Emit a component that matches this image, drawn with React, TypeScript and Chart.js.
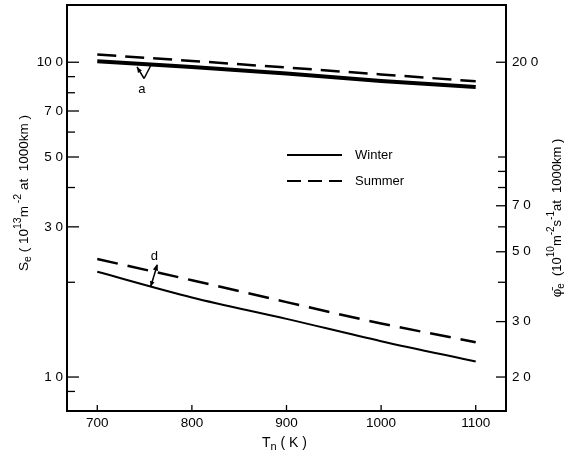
import { useEffect, useRef } from "react";
import { Chart, registerables } from "chart.js";

Chart.register(...registerables);

// ---- data ----
const temps = [700, 800, 900, 1000, 1100];
// upper pair (curve "a")
const winterA = [10.07, 9.66, 9.21, 8.72, 8.35];
const summerA = [10.58, 10.1, 9.62, 9.15, 8.7];
// lower pair (curve "d")
const winterD = [2.16, 1.79, 1.53, 1.3, 1.12];
const summerD = [2.37, 2.03, 1.73, 1.48, 1.29];

const xTicks = [700, 800, 900, 1000, 1100];
const leftMajor = [1, 3, 5, 7, 10];
const leftMajorLabels = ["1 0", "3 0", "5 0", "7 0", "10 0"];
const leftMinor = [0.9, 2, 4, 6, 8, 9];
const rightMajor = [2, 3, 5, 7, 20];
const rightMajorLabels = ["2 0", "3 0", "5 0", "7 0", "20 0"];
const rightMinor = [4, 6, 8, 9, 10];

const legendLabels = ["Winter", "Summer"];

// annotation anchors in data units [T, value]
const annotA = { tipL: [742, 9.66], bottom: [749.5, 8.88], tipR: [757.6, 9.91], label: [747, 8.21] };
const annotD = { bottom: [756.4, 1.935], top: [763.4, 2.27], label: [760.3, 2.42] };

const FONT = '"Liberation Sans", Arial, sans-serif';

type Seg = { t: string; s: number; dy?: number };

function segWidth(ctx: CanvasRenderingContext2D, segs: Seg[]) {
  let w = 0;
  for (const sg of segs) {
    ctx.font = `${sg.s}px ${FONT}`;
    w += ctx.measureText(sg.t).width;
  }
  return w;
}

function drawSegs(ctx: CanvasRenderingContext2D, segs: Seg[], cx: number, cy: number, rot: number) {
  ctx.save();
  ctx.translate(cx, cy);
  ctx.rotate(rot);
  const total = segWidth(ctx, segs);
  let x = -total / 2;
  ctx.textAlign = "left";
  ctx.textBaseline = "middle";
  for (const sg of segs) {
    ctx.font = `${sg.s}px ${FONT}`;
    ctx.fillText(sg.t, x, sg.dy || 0);
    x += ctx.measureText(sg.t).width;
  }
  ctx.restore();
}

function arrowHead(ctx: CanvasRenderingContext2D, fx: number, fy: number, tx: number, ty: number, size: number) {
  const ang = Math.atan2(ty - fy, tx - fx);
  ctx.beginPath();
  ctx.moveTo(tx, ty);
  ctx.lineTo(tx - size * Math.cos(ang - 0.4), ty - size * Math.sin(ang - 0.4));
  ctx.lineTo(tx - size * Math.cos(ang + 0.4), ty - size * Math.sin(ang + 0.4));
  ctx.closePath();
  ctx.fill();
}

export default function App() {
  const ref = useRef<HTMLCanvasElement>(null);

  useEffect(() => {
    const canvas = ref.current;
    if (!canvas) return;

    const overlay = {
      id: "overlay",
      afterDraw(chart: any) {
        const { ctx, chartArea: a, scales } = chart;
        const sx = scales.x;
        const sy = scales.y;
        const sy2 = scales.y2;
        ctx.save();
        ctx.strokeStyle = "#000";
        ctx.fillStyle = "#000";
        ctx.setLineDash([]);

        // frame
        ctx.lineWidth = 2;
        ctx.strokeRect(a.left, a.top, a.right - a.left, a.bottom - a.top);

        const line = (x1: number, y1: number, x2: number, y2: number) => {
          ctx.beginPath();
          ctx.moveTo(x1, y1);
          ctx.lineTo(x2, y2);
          ctx.stroke();
        };

        // x ticks
        ctx.lineWidth = 1.3;
        ctx.font = `13.5px ${FONT}`;
        ctx.textAlign = "center";
        ctx.textBaseline = "middle";
        xTicks.forEach((v) => {
          const p = sx.getPixelForValue(v);
          line(p, a.bottom, p, a.bottom - 6);
          ctx.fillText(String(v), p, a.bottom + 12);
        });

        // left ticks
        leftMajor.forEach((v, i) => {
          const p = sy.getPixelForValue(v);
          line(a.left, p, a.left + 12, p);
          ctx.textAlign = "right";
          ctx.fillText(leftMajorLabels[i], a.left - 4, p);
        });
        leftMinor.forEach((v) => {
          const p = sy.getPixelForValue(v);
          line(a.left, p, a.left + 8, p);
        });

        // right ticks
        rightMajor.forEach((v, i) => {
          const p = sy2.getPixelForValue(v);
          line(a.right - 10, p, a.right, p);
          ctx.textAlign = "left";
          ctx.fillText(rightMajorLabels[i], a.right + 6, p);
        });
        rightMinor.forEach((v) => {
          const p = sy2.getPixelForValue(v);
          line(a.right - 8, p, a.right, p);
        });

        // axis titles
        drawSegs(
          ctx,
          [
            { t: "T", s: 14 },
            { t: "n", s: 11, dy: 4 },
            { t: " ( K )", s: 14 },
          ],
          (a.left + a.right) / 2 - 2,
          a.bottom + 32,
          0
        );
        drawSegs(
          ctx,
          [
            { t: "S", s: 13.5 },
            { t: "e", s: 10.5, dy: 4 },
            { t: " ( 10", s: 13.5 },
            { t: "13", s: 10.5, dy: -6 },
            { t: "m", s: 13.5 },
            { t: " -2", s: 10.5, dy: -6 },
            { t: " at  1000km )", s: 13.5 },
          ],
          24,
          193,
          -Math.PI / 2
        );
        drawSegs(
          ctx,
          [
            { t: "\u03C6\u0304", s: 13 },
            { t: "e", s: 10, dy: 4 },
            { t: "  (10", s: 13 },
            { t: "10", s: 10, dy: -6 },
            { t: "m", s: 13 },
            { t: "-2", s: 10, dy: -6 },
            { t: "s", s: 13 },
            { t: "-1", s: 10, dy: -6 },
            { t: "at  1000km )", s: 13 },
          ],
          557,
          218,
          -Math.PI / 2
        );

        // legend
        const lx1 = 287, lx2 = 342;
        ctx.lineWidth = 2;
        line(lx1, 155, lx2, 155);
        ctx.setLineDash([14, 7]);
        line(lx1, 181, lx2, 181);
        ctx.setLineDash([]);
        ctx.font = `13px ${FONT}`;
        ctx.textAlign = "left";
        ctx.textBaseline = "middle";
        ctx.fillText(legendLabels[0], 355, 155);
        ctx.fillText(legendLabels[1], 355, 181);

        // annotation "a"
        const P = (d: number[]) => [sx.getPixelForValue(d[0]), sy.getPixelForValue(d[1])];
        const aL = P(annotA.tipL), aB = P(annotA.bottom), aR = P(annotA.tipR), aT = P(annotA.label);
        ctx.lineWidth = 1.5;
        line(aB[0], aB[1], aL[0], aL[1]);
        line(aB[0], aB[1], aR[0], aR[1]);
        arrowHead(ctx, aB[0], aB[1], aL[0], aL[1], 6);
        ctx.font = `13px ${FONT}`;
        ctx.textAlign = "center";
        ctx.fillText("a", aT[0], aT[1]);

        // annotation "d"
        const dB = P(annotD.bottom), dT = P(annotD.top), dL = P(annotD.label);
        line(dB[0], dB[1], dT[0], dT[1]);
        arrowHead(ctx, dT[0], dT[1], dB[0], dB[1], 6);
        arrowHead(ctx, dB[0], dB[1], dT[0], dT[1] - 1, 7);
        ctx.fillText("d", dL[0], dL[1]);

        ctx.restore();
      },
    };

    const mk = (vals: number[]) => temps.map((t, i) => ({ x: t, y: vals[i] }));

    const chart = new Chart(canvas, {
      type: "line",
      data: {
        datasets: [
          { label: "Winter a", data: mk(winterA), borderColor: "#000", borderWidth: 4, pointRadius: 0, yAxisID: "y" },
          { label: "Summer a", data: mk(summerA), borderColor: "#000", borderWidth: 2.5, borderDash: [19, 9], pointRadius: 0, yAxisID: "y" },
          { label: "Winter d", data: mk(winterD), borderColor: "#000", borderWidth: 2, pointRadius: 0, cubicInterpolationMode: "monotone", yAxisID: "y" },
          { label: "Summer d", data: mk(summerD), borderColor: "#000", borderWidth: 2.5, borderDash: [21, 10], pointRadius: 0, cubicInterpolationMode: "monotone", yAxisID: "y" },
        ],
      },
      options: {
        responsive: false,
        animation: false,
        layout: { padding: { left: 67, right: 64, top: 5, bottom: 47 } },
        plugins: { legend: { display: false }, tooltip: { enabled: false } },
        scales: {
          x: { type: "linear", min: 668, max: 1132, display: false },
          y: { type: "logarithmic", min: 0.78, max: 15.2, display: false },
          y2: { type: "logarithmic", min: 1.56, max: 30.4, display: false, position: "right" },
        },
      },
      plugins: [overlay],
    } as any);

    return () => chart.destroy();
  }, []);

  return (
    <div style={{ position: "absolute", left: 0, top: 0, width: 570, height: 458, background: "#fff" }}>
      <canvas ref={ref} width={570} height={458} style={{ display: "block" }} />
    </div>
  );
}
